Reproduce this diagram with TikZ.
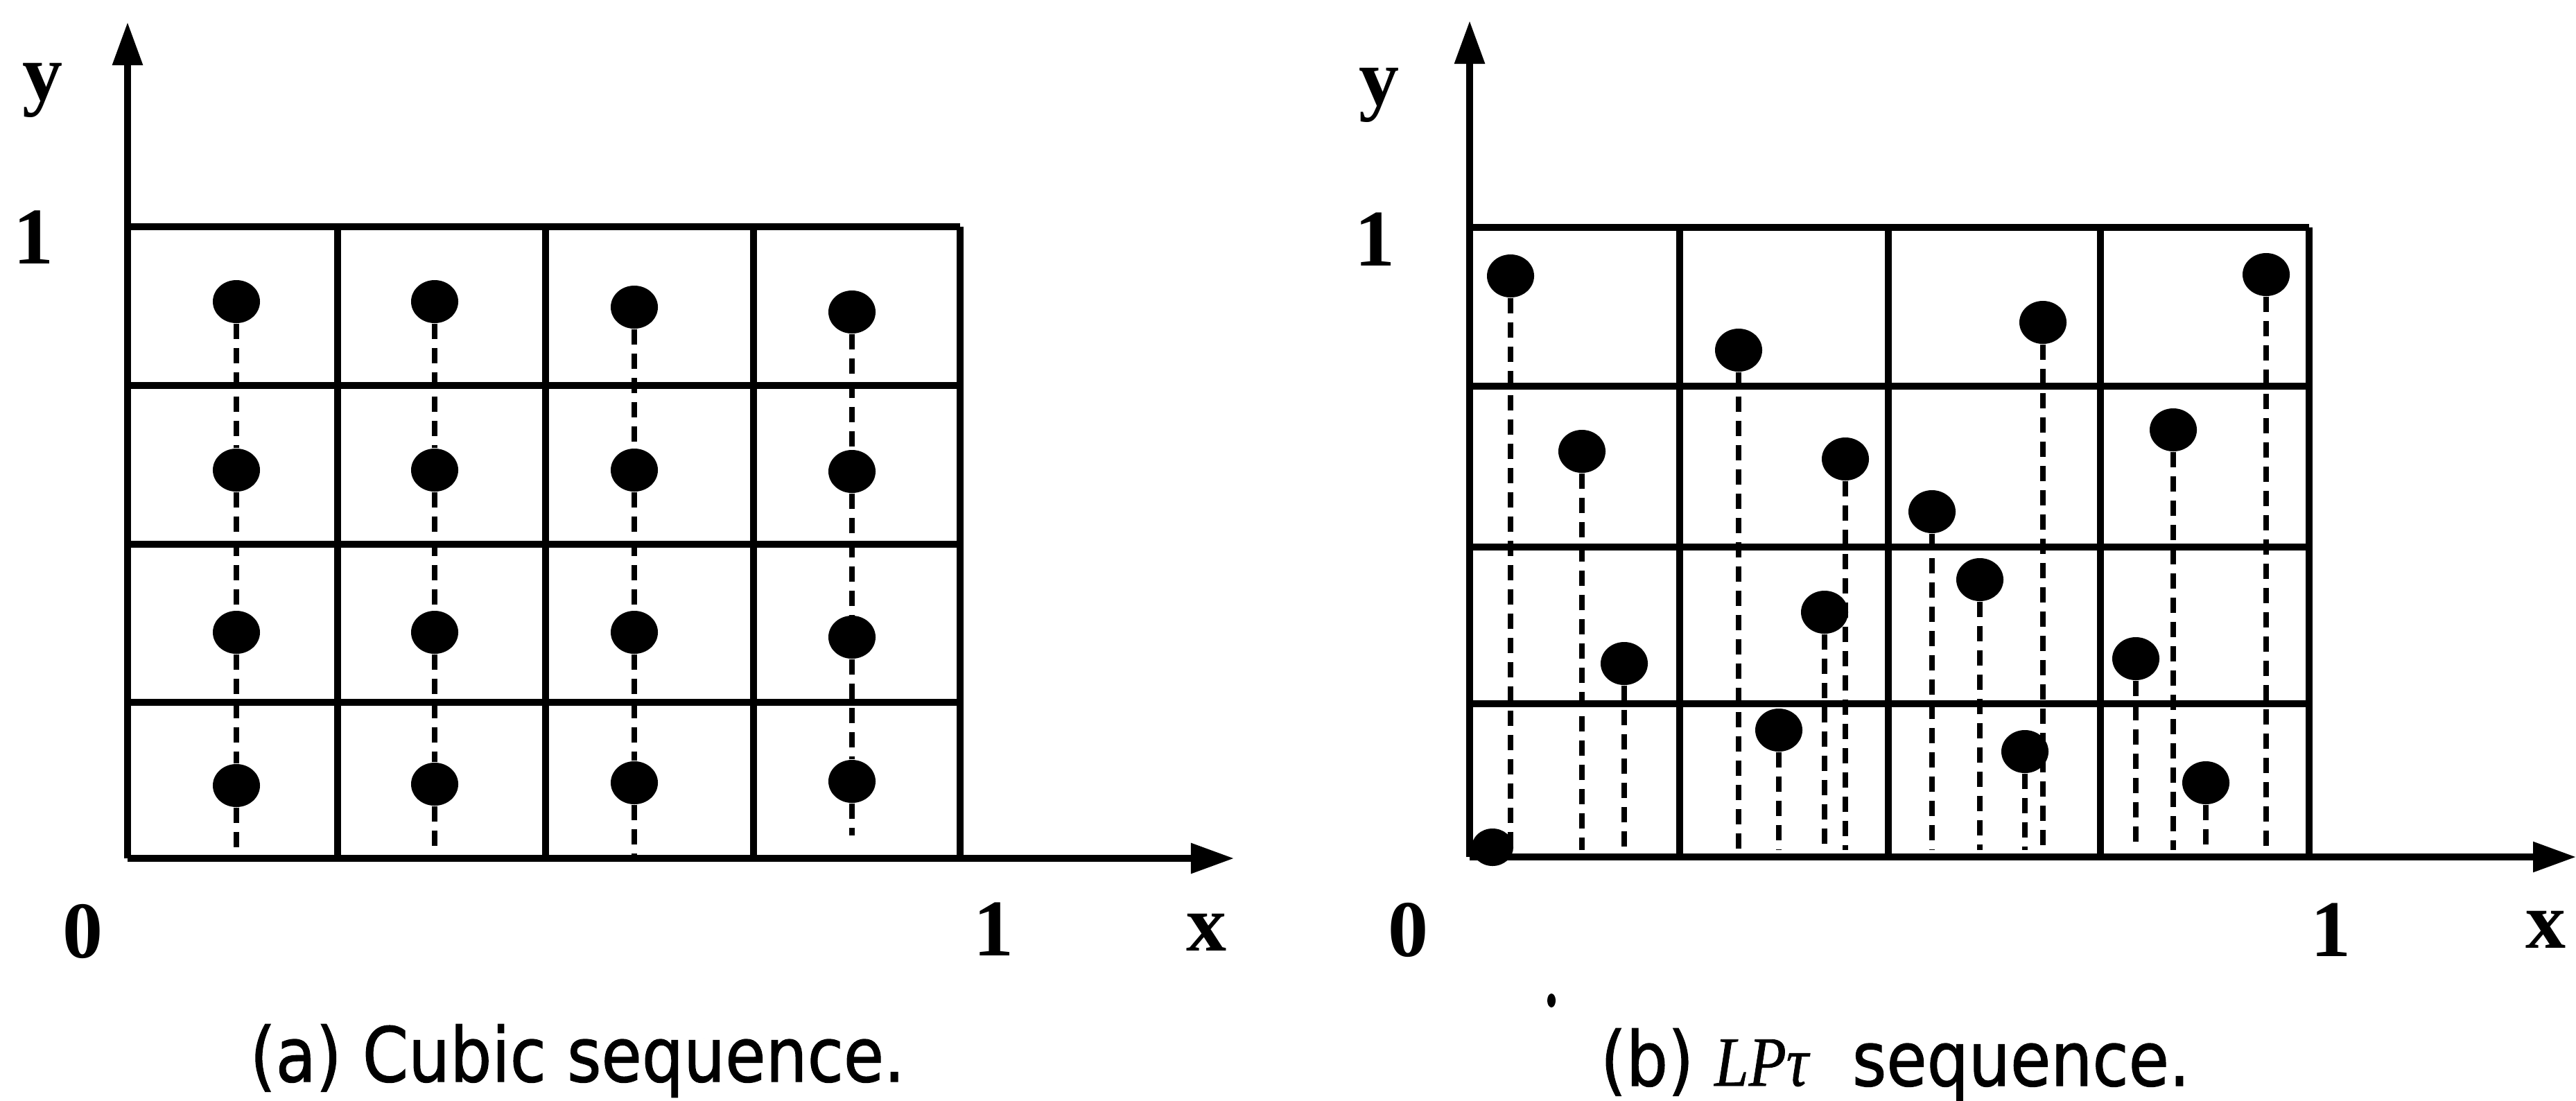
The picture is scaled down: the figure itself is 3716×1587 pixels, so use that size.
\documentclass[tikz,border=0pt]{standalone}
\usepackage{fontspec}
\usetikzlibrary{arrows.meta,shapes.geometric}
\newfontfamily\lblfont{Liberation Serif}
\newfontfamily\lblital{Liberation Serif Italic}[FakeBold=0.8]
\newfontfamily\capfont{DejaVu Sans}[FakeBold=1.2]
\begin{document}
\begin{tikzpicture}[x=0.01cm,y=-0.01cm,
  gridline/.style={line width=3pt},
  axis/.style={line width=2.6pt,-{Triangle[length=0.62cm,width=0.42cm]}},
  drop/.style={line width=2.2pt,dash pattern=on 0.22cm off 0.13cm},
  dot/.style={ellipse,fill=black,draw=none,inner sep=0pt,minimum width=0.68cm,minimum height=0.62cm},
  lbl/.style={font=\lblfont\bfseries\fontsize{33}{40}\selectfont,inner sep=0pt},
  captext/.style={font=\capfont\fontsize{31}{38}\selectfont,inner sep=0pt,anchor=base}]
\useasboundingbox (0,0) rectangle (3716,1587);

% ---------------- panel (a) ----------------
\coordinate (aO) at (184,1238);
\coordinate (aYt) at (184,32);
\coordinate (aXt) at (1780,1238);
\foreach \yy in {327,556,785,1013} \draw[gridline] (184,\yy) -- (1385,\yy);
\foreach \xx in {487,787,1087,1385} \draw[gridline] (\xx,327) -- (\xx,1238);
\draw[axis] (aO) -- (aYt);
\draw[axis] (aO) -- (aXt);

\node[dot] (a11) at (341,435) {};
\node[dot] (a12) at (341,678) {};
\node[dot] (a13) at (341,912) {};
\node[dot] (a14) at (341,1133) {};
\node[dot] (a21) at (627,435) {};
\node[dot] (a22) at (627,678) {};
\node[dot] (a23) at (627,912) {};
\node[dot] (a24) at (627,1131) {};
\node[dot] (a31) at (915,443) {};
\node[dot] (a32) at (915,678) {};
\node[dot] (a33) at (915,912) {};
\node[dot] (a34) at (915,1129) {};
\node[dot] (a41) at (1229,450) {};
\node[dot] (a42) at (1229,680) {};
\node[dot] (a43) at (1229,919) {};
\node[dot] (a44) at (1229,1127) {};
\coordinate (a1e) at (341,1238);
\coordinate (a2e) at (627,1236);
\coordinate (a3e) at (915,1238);
\coordinate (a4e) at (1229,1205);
\foreach \c in {1,2,3,4}{
  \draw[drop] (a\c1.south) -- (a\c2.north);
  \draw[drop] (a\c2.south) -- (a\c3.north);
  \draw[drop] (a\c3.south) -- (a\c4.north);
  \draw[drop] (a\c4.south) -- (a\c e);
}

\node[lbl] (ay) at (62,130) {y};
\node[lbl] (a1y) at (49,342) {1};
\node[lbl] (a0) at (120,1343) {0};
\node[lbl] (a1x) at (1433,1340) {1};
\node[lbl] (ax) at (1740,1345) {x};
\node[captext] (acap) at (833,1560) {\scalebox{0.87}[1]{(a) Cubic sequence.}};

% ---------------- panel (b) ----------------
\coordinate (bO) at (2120,1236);
\coordinate (bYt) at (2120,30);
\coordinate (bXt) at (3716,1236);
\foreach \yy in {328,557,789,1015} \draw[gridline] (2120,\yy) -- (3331,\yy);
\foreach \xx in {2423,2724,3030,3331} \draw[gridline] (\xx,328) -- (\xx,1236);
\draw[axis] (bO) -- (bYt);
\draw[axis] (bO) -- (bXt);

\foreach \n/\px/\py in {1/2179/398, 2/2508/505, 3/2947/465, 4/3269/396,
  5/2282/651, 6/2662/662, 7/3135/620, 8/2787/738, 9/2856/836, 10/2632/883,
  11/2343/957, 12/3081/950, 13/2566/1053, 14/2921/1084, 15/3182/1129}{
  \node[dot] (b\n) at (\px,\py) {};
  \coordinate (b\n e) at (\px,1226);
  \draw[drop] (b\n.south) -- (b\n e);
}
\node[dot,minimum width=0.6cm,minimum height=0.54cm] (b16) at (2153,1222) {};
\fill (2238,1443) ellipse [x radius=6,y radius=10];

\node[lbl] (by) at (1989,137) {y};
\node[lbl] (b1y) at (1983,345) {1};
\node[lbl] (b0) at (2031,1341) {0};
\node[lbl] (b1x) at (3362,1341) {1};
\node[lbl] (bx) at (3672,1341) {x};
\node[captext] (bcap) at (2734,1566) {\scalebox{0.87}[1]{(b) {\lblital\fontsize{29}{34}\selectfont LPτ}\hspace{0.35em} sequence.}};
\end{tikzpicture}
\end{document}
